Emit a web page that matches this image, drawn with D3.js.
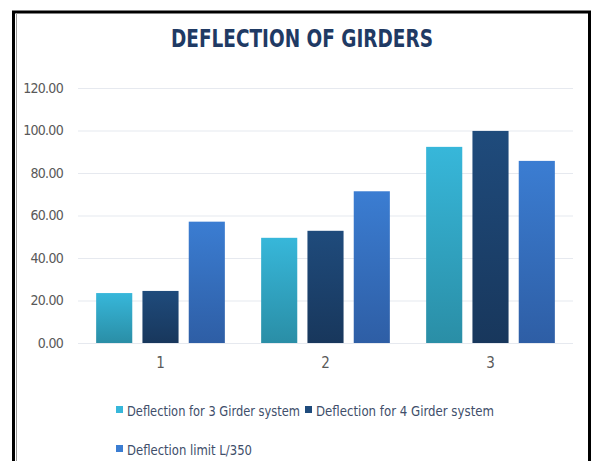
<!DOCTYPE html>
<html><head><meta charset="utf-8">
<script src="https://cdn.jsdelivr.net/npm/d3@7"></script>
<style>body{margin:0;background:#fff}svg{display:block}</style>
</head><body>
<script>
const categories = ["1", "2", "3"];
const seriesNames = ["Deflection for 3 Girder system", "Deflection for 4 Girder system", "Deflection limit L/350"];
const girder3 = [23.5, 49.5, 92.3];
const girder4 = [24.5, 52.8, 99.8];
const limitL350 = [57.1, 71.4, 85.7];
const yTicks = [0, 20, 40, 60, 80, 100, 120];

const W = 592, H = 461;
const svg = d3.select("body").append("svg").attr("width", W).attr("height", H);
const defs = svg.append("defs");
const colors = [["#37b7da", "#2a8ea6"], ["#1f4b7c", "#18375c"], ["#3b7dd2", "#2e5ea5"]];
colors.forEach((c, i) => {
  const g = defs.append("linearGradient").attr("id", "g" + i).attr("x1", 0).attr("y1", 0).attr("x2", 0).attr("y2", 1);
  g.append("stop").attr("offset", "0%").attr("stop-color", c[0]);
  g.append("stop").attr("offset", "100%").attr("stop-color", c[1]);
});

// frame
svg.append("rect").attr("x", 13.5).attr("y", 12).attr("width", 576).attr("height", 470)
  .attr("fill", "#fff").attr("stroke", "#000").attr("stroke-width", 3);
svg.append("line").attr("x1", 16.5).attr("x2", 16.5).attr("y1", 13).attr("y2", 461).attr("stroke", "#999").attr("stroke-width", 1);

const font = "'DejaVu Sans Condensed', 'Liberation Sans Narrow', sans-serif";

svg.append("text").attr("x", 302).attr("y", 47).attr("text-anchor", "middle")
  .attr("font-family", font).attr("font-weight", "bold").attr("font-size", 25)
  .attr("fill", "#1f3a64").attr("textLength", 262).attr("lengthAdjust", "spacingAndGlyphs")
  .text("DEFLECTION OF GIRDERS");

const x0 = 78, x1 = 573, yTop = 88, yBot = 343;
const y = d3.scaleLinear().domain([0, 120]).range([yBot, yTop]);
const xb = d3.scaleBand().domain(categories).range([x0, x1]).paddingInner(0.22).paddingOuter(0.11);
const xs = d3.scaleBand().domain([0, 1, 2]).range([0, xb.bandwidth()]).paddingInner(0.22);

// gridlines
const yAxis = d3.axisLeft(y).tickValues(yTicks).tickFormat(d3.format(".2f")).tickSize(-(x1 - x0)).tickPadding(15);
const ga = svg.append("g").attr("transform", `translate(${x0},0)`).call(yAxis);
ga.select(".domain").remove();
ga.selectAll(".tick line").attr("stroke", "#e6e9ef").attr("stroke-width", 1.2);
ga.selectAll(".tick text").attr("font-family", font).attr("font-size", 14).attr("letter-spacing", -0.7).attr("fill", "#595959");

const series = [girder3, girder4, limitL350];
series.forEach((vals, si) => {
  svg.append("g").selectAll("rect").data(vals).join("rect")
    .attr("x", (d, i) => xb(categories[i]) + xs(si))
    .attr("width", xs.bandwidth())
    .attr("y", d => y(d))
    .attr("height", d => yBot - y(d))
    .attr("fill", `url(#g${si})`);
});

const xAxis = d3.axisBottom(xb).tickSize(0).tickPadding(14);
const gx = svg.append("g").attr("transform", `translate(0,${yBot})`).call(xAxis);
gx.select(".domain").remove();
gx.selectAll(".tick text").attr("font-family", font).attr("font-size", 15).attr("fill", "#595959");

// legend
const legendPos = [[116, 411, 173], [305, 411, 178], [116, 450, 125]];
seriesNames.forEach((n, i) => {
  const [lx, ly, tl] = legendPos[i];
  svg.append("rect").attr("x", lx).attr("y", ly - 5).attr("width", 7).attr("height", 7).attr("fill", colors[i][0]);
  svg.append("text").attr("x", lx + 11).attr("y", ly + 5).attr("font-family", font).attr("font-size", 14.5)
    .attr("fill", "#404e6a").attr("textLength", tl).attr("lengthAdjust", "spacingAndGlyphs").text(n);
});
</script>
</body></html>
